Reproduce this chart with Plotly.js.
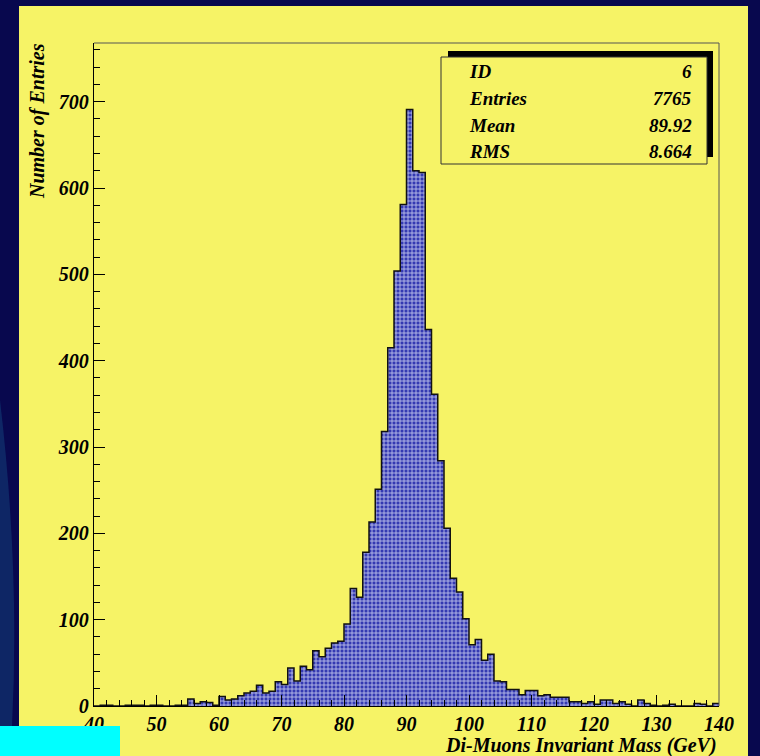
<!DOCTYPE html>
<html>
<head>
<meta charset="utf-8">
<script src="https://cdn.plot.ly/plotly-3.0.1.min.js"></script>
<style>
  html, body { margin: 0; padding: 0; background: #08084e; }
  #chart { width: 760px; height: 756px; }
</style>
</head>
<body>
<div id="chart"></div>
<script>
// ---- data (1 GeV bins) ----
const binLowEdges = [40,41,42,43,44,45,46,47,48,49,50,51,52,53,54,55,56,57,58,59,
  60,61,62,63,64,65,66,67,68,69,70,71,72,73,74,75,76,77,78,79,
  80,81,82,83,84,85,86,87,88,89,90,91,92,93,94,95,96,97,98,99,
  100,101,102,103,104,105,106,107,108,109,110,111,112,113,114,115,116,117,118,119,
  120,121,122,123,124,125,126,127,128,129,130,131,132,133,134,135,136,137,138,139];
const binWidthGeV = 1;
const entries = [0,1,1,0,0,1,1,1,0,1,1,0,0,1,1,8,3,5,4,1,
  11,7,8,12,15,17,24,15,17,28,25,44,29,46,42,64,57,67,73,75,
  95,136,126,178,213,251,318,415,504,581,691,620,618,436,361,284,206,148,132,101,
  71,77,53,60,29,28,19,19,13,18,18,12,13,10,10,10,5,5,3,5,
  2,7,7,3,5,2,0,7,3,1,0,1,2,0,0,0,3,2,0,3];
const xTickVals = [40,50,60,70,80,90,100,110,120,130,140];
const yTickVals = [0,100,200,300,400,500,600,700];
const statLabels = ["ID","Entries","Mean","RMS"];
const statValues = ["6","7765","89.92","8.664"];
const xTitle = "Di-Muons Invariant Mass (GeV)";
const yTitle = "Number of Entries";

// ---- geometry helpers (figure pixels -> paper coords) ----
const W = 760, H = 756;
const M = {l: 94, r: 41, t: 43, b: 50};
const PW = W - M.l - M.r, PH = H - M.t - M.b;
const px = x => (x - M.l) / PW;
const py = y => (H - M.b - y) / PH;

const yellow = "#f6f366";
const navy = "#08084e";
const serif = "Liberation Serif, Times New Roman, serif";
const bi = (size) => ({family: serif, size: size, color: "#000", weight: "bold", style: "italic"});

const centers = binLowEdges.map(e => e + binWidthGeV / 2);
// outline: step line along bin edges
const stepX = binLowEdges.concat([binLowEdges[binLowEdges.length - 1] + binWidthGeV]);
const stepY = entries.concat([entries[entries.length - 1]]);

const traces = [
  {
    type: "bar",
    x: centers,
    y: entries,
    width: binWidthGeV,
    marker: {
      color: "#3a3fb4",
      line: {width: 0},
      pattern: {shape: "+", bgcolor: "#3439b2", fgcolor: "rgba(228,230,250,0.8)", size: 4, solidity: 0.38}
    },
    hoverinfo: "skip",
    showlegend: false
  },
  {
    type: "scatter",
    mode: "lines",
    x: stepX,
    y: stepY,
    line: {shape: "hv", color: "#111", width: 1.5},
    hoverinfo: "skip",
    showlegend: false
  }
];

const shapes = [
  // navy surroundings
  {type: "rect", xref: "paper", yref: "paper", x0: px(0), x1: px(760), y0: py(6), y1: py(0), fillcolor: navy, line: {width: 0}, layer: "below"},
  {type: "rect", xref: "paper", yref: "paper", x0: px(0), x1: px(19), y0: py(756), y1: py(0), fillcolor: navy, line: {width: 0}, layer: "below"},
  {type: "rect", xref: "paper", yref: "paper", x0: px(748), x1: px(760), y0: py(756), y1: py(0), fillcolor: navy, line: {width: 0}, layer: "below"},
  // lighter blue swoosh at left edge
  {type: "path", xref: "paper", yref: "paper",
   path: `M ${px(0)} ${py(400)} Q ${px(20)} ${py(570)} ${px(12)} ${py(726)} L ${px(0)} ${py(726)} Z`,
   fillcolor: "#123a74", opacity: 0.6, line: {width: 0}, layer: "below"},
  // cyan block bottom-left
  {type: "rect", xref: "paper", yref: "paper", x0: px(0), x1: px(120), y0: py(756), y1: py(726), fillcolor: "#00ffff", line: {width: 0}},
  // frame top and right
  {type: "line", xref: "paper", yref: "paper", x0: 0, x1: 1, y0: 1, y1: 1, line: {color: "#555", width: 1}},
  {type: "line", xref: "paper", yref: "paper", x0: 1, x1: 1, y0: 0, y1: 1, line: {color: "#555", width: 1}},
  // stats box shadow + box
  {type: "rect", xref: "paper", yref: "paper", x0: px(448), x1: px(713), y0: py(157), y1: py(51), fillcolor: "#000", line: {width: 0}},
  {type: "rect", xref: "paper", yref: "paper", x0: px(441), x1: px(707), y0: py(164), y1: py(57), fillcolor: yellow, line: {color: "#333", width: 1}}
];

const statY = [72, 98, 125, 151];
const annotations = [];
statLabels.forEach((s, i) => {
  annotations.push({xref: "paper", yref: "paper", x: px(467), y: py(statY[i]), xanchor: "left", yanchor: "middle",
    text: s, showarrow: false, font: bi(19)});
  annotations.push({xref: "paper", yref: "paper", x: px(694), y: py(statY[i]), xanchor: "right", yanchor: "middle",
    text: statValues[i], showarrow: false, font: bi(19)});
});
annotations.push({xref: "paper", yref: "paper", x: px(719), y: py(745), xanchor: "right", yanchor: "middle",
  text: xTitle, showarrow: false, font: bi(20)});
annotations.push({xref: "paper", yref: "paper", x: px(37), y: py(121), xanchor: "center", yanchor: "middle",
  text: yTitle, textangle: -90, showarrow: false, font: bi(20)});

const layout = {
  width: W, height: H,
  margin: M,
  paper_bgcolor: yellow,
  plot_bgcolor: yellow,
  bargap: 0,
  showlegend: false,
  xaxis: {
    range: [40, 140], tickvals: xTickVals, ticktext: xTickVals.map(String),
    ticks: "inside", ticklen: 11, tickwidth: 1, tickcolor: "#000",
    minor: {dtick: 2, tick0: 40, ticks: "inside", ticklen: 6, tickwidth: 1, tickcolor: "#000"},
    showline: true, linecolor: "#000", linewidth: 1.2,
    showgrid: false, zeroline: false,
    tickfont: bi(20), ticklabelstandoff: 0
  },
  yaxis: {
    range: [0, 768], tickvals: yTickVals, ticktext: yTickVals.map(String),
    ticks: "inside", ticklen: 11, tickwidth: 1, tickcolor: "#000",
    minor: {dtick: 20, tick0: 0, ticks: "inside", ticklen: 6, tickwidth: 1, tickcolor: "#000"},
    showline: true, linecolor: "#000", linewidth: 1.2,
    showgrid: false, zeroline: false,
    tickfont: bi(20)
  },
  shapes: shapes,
  annotations: annotations
};

Plotly.newPlot("chart", traces, layout, {displayModeBar: false, staticPlot: true});
</script>
</body>
</html>
